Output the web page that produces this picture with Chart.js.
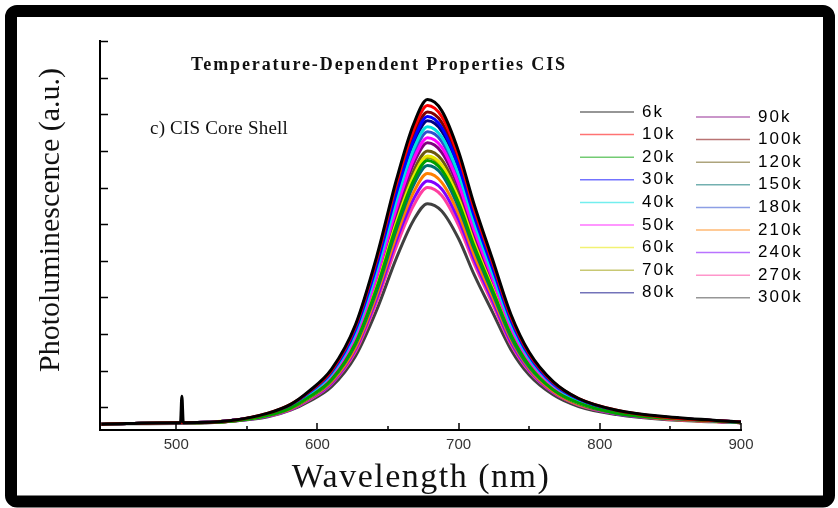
<!DOCTYPE html>
<html>
<head>
<meta charset="utf-8">
<script src="https://cdn.jsdelivr.net/npm/chart.js@4.4.1/dist/chart.umd.min.js"></script>
<style>
  html, body { margin: 0; padding: 0; background: #fff; }
  canvas { display: block; }
</style>
</head>
<body>
<canvas id="plChart" width="838" height="508"></canvas>
<script>
// Wavelength grid (nm) shared by all spectra
const wavelengths = [447, 500, 503, 504, 505, 539, 565, 581, 594, 610, 627, 642, 656, 668, 678, 688, 700, 711, 724, 737, 750, 767, 785, 812, 848, 900];

// PL intensity (a.u.), one array per temperature
const pl6k   = [270, 290, 290, 650, 290, 320, 420, 540, 720, 1020, 1630, 2560, 3610, 4360, 4700, 4550, 3990, 3270, 2520, 1770, 1250, 850, 620, 460, 370, 300];
const pl10k  = [270, 290, 290, 290, 290, 320, 420, 540, 710, 1000, 1610, 2520, 3550, 4280, 4620, 4470, 3920, 3210, 2480, 1740, 1230, 840, 620, 460, 360, 300];
const pl20k  = [270, 290, 290, 290, 290, 310, 390, 490, 640, 880, 1380, 2130, 2980, 3590, 3870, 3740, 3290, 2700, 2100, 1490, 1070, 740, 560, 420, 350, 290];
const pl30k  = [270, 290, 290, 290, 290, 320, 410, 530, 700, 980, 1560, 2440, 3430, 4140, 4470, 4320, 3790, 3110, 2400, 1690, 1200, 820, 610, 450, 360, 300];
const pl40k  = [270, 290, 290, 290, 290, 320, 410, 520, 680, 960, 1520, 2370, 3330, 4020, 4330, 4190, 3680, 3020, 2330, 1640, 1170, 810, 590, 440, 360, 290];
const pl50k  = [270, 290, 290, 290, 290, 320, 400, 510, 670, 930, 1470, 2290, 3220, 3880, 4180, 4050, 3550, 2920, 2260, 1590, 1140, 790, 580, 440, 350, 290];
const pl60k  = [270, 290, 290, 290, 290, 320, 390, 500, 640, 890, 1400, 2160, 3030, 3650, 3930, 3810, 3350, 2750, 2130, 1510, 1080, 750, 560, 430, 350, 290];
const pl70k  = [270, 290, 290, 290, 290, 310, 390, 490, 640, 880, 1390, 2150, 3010, 3630, 3910, 3780, 3330, 2730, 2120, 1500, 1080, 750, 560, 430, 350, 290];
const pl80k  = [270, 290, 290, 290, 290, 320, 410, 520, 690, 970, 1550, 2410, 3390, 4090, 4410, 4270, 3750, 3070, 2370, 1670, 1190, 820, 600, 450, 360, 290];
const pl90k  = [270, 290, 290, 290, 290, 320, 400, 510, 660, 920, 1450, 2260, 3170, 3820, 4110, 3980, 3500, 2870, 2220, 1570, 1120, 780, 580, 440, 350, 290];
const pl100k = [270, 290, 290, 290, 290, 320, 410, 530, 700, 990, 1580, 2470, 3480, 4200, 4530, 4390, 3850, 3160, 2440, 1710, 1220, 830, 610, 450, 360, 300];
const pl120k = [270, 290, 290, 290, 290, 320, 400, 500, 650, 900, 1420, 2200, 3080, 3720, 4000, 3880, 3410, 2800, 2170, 1530, 1100, 760, 570, 430, 350, 290];
const pl150k = [270, 290, 290, 290, 290, 310, 390, 490, 630, 870, 1360, 2090, 2930, 3530, 3800, 3680, 3230, 2660, 2060, 1460, 1050, 740, 550, 420, 350, 290];
const pl180k = [270, 290, 290, 290, 290, 320, 400, 520, 680, 940, 1500, 2330, 3280, 3950, 4260, 4130, 3620, 2970, 2300, 1620, 1160, 800, 590, 440, 360, 290];
const pl210k = [270, 290, 290, 290, 290, 310, 390, 480, 620, 850, 1320, 2040, 2850, 3430, 3690, 3570, 3140, 2580, 2010, 1430, 1030, 720, 540, 420, 340, 290];
const pl240k = [270, 290, 290, 290, 290, 310, 380, 470, 610, 830, 1290, 1990, 2780, 3340, 3590, 3480, 3060, 2520, 1960, 1390, 1010, 710, 540, 410, 340, 290];
const pl270k = [270, 290, 290, 290, 290, 310, 380, 470, 600, 820, 1260, 1940, 2700, 3250, 3500, 3390, 2980, 2460, 1910, 1360, 990, 700, 530, 410, 340, 290];
const pl300k = [270, 280, 280, 280, 280, 310, 370, 460, 580, 780, 1200, 1830, 2540, 3050, 3280, 3180, 2800, 2310, 1800, 1290, 940, 670, 510, 400, 330, 290];

const temperatures = ["6k", "10k", "20k", "30k", "40k", "50k", "60k", "70k", "80k",
                      "90k", "100k", "120k", "150k", "180k", "210k", "240k", "270k", "300k"];
const spectra = [pl6k, pl10k, pl20k, pl30k, pl40k, pl50k, pl60k, pl70k, pl80k,
                 pl90k, pl100k, pl120k, pl150k, pl180k, pl210k, pl240k, pl270k, pl300k];
const lineColors = ["#000000", "#ff0000", "#00a000", "#0000ff", "#00e0e0", "#ff00ff", "#e8e800", "#9a9a00", "#000080",
                    "#800080", "#800000", "#6a5a10", "#006f6f", "#3050d0", "#ff8000", "#8000ff", "#ff3fa0", "#404040"];

// axis ticks
const xTickLabels = [500, 600, 700, 800, 900];
const xMinorTicks = [550, 650, 750, 850];
const yTicks = [500, 1000, 1500, 2000, 2500, 3000, 3500, 4000, 4500, 5000, 5500];

const chartTitle = "Temperature-Dependent Properties CIS";
const panelLabel = "c) CIS Core Shell";
const xTitle = "Wavelength (nm)";
const yTitle = "Photoluminescence (a.u.)";

// extra drawing: inward ticks, titles, two-column legend, black frame
const decorations = {
  id: "decorations",
  afterDraw(chart) {
    const { ctx, chartArea: a, scales: { x, y } } = chart;
    ctx.save();

    // ticks pointing into the plot
    ctx.strokeStyle = "#000";
    ctx.lineWidth = 1.5;
    ctx.beginPath();
    xTickLabels.forEach(v => {
      const p = Math.round(x.getPixelForValue(v));
      ctx.moveTo(p, a.bottom); ctx.lineTo(p, a.bottom - 7);
    });
    xMinorTicks.forEach(v => {
      const p = Math.round(x.getPixelForValue(v));
      ctx.moveTo(p, a.bottom); ctx.lineTo(p, a.bottom - 4);
    });
    yTicks.forEach(v => {
      const p = Math.round(y.getPixelForValue(v)) + 0.5;
      ctx.moveTo(a.left, p); ctx.lineTo(a.left + 8, p);
    });
    ctx.stroke();

    ctx.fillStyle = "#111";
    ctx.textBaseline = "alphabetic";

    // chart title
    ctx.font = "bold 18px 'Liberation Serif'";
    ctx.letterSpacing = "1.9px";
    ctx.textAlign = "center";
    ctx.fillText(chartTitle, 379, 70);

    // panel label
    ctx.font = "19px 'Liberation Serif'";
    ctx.letterSpacing = "0.2px";
    ctx.textAlign = "left";
    ctx.fillText(panelLabel, 150, 134);

    // axis titles
    ctx.font = "34px 'Liberation Serif'";
    ctx.letterSpacing = "1.5px";
    ctx.textAlign = "center";
    ctx.fillText(xTitle, 421, 487);

    ctx.save();
    ctx.translate(59, 220);
    ctx.rotate(-Math.PI / 2);
    ctx.font = "30px 'Liberation Serif'";
    ctx.letterSpacing = "0px";
    ctx.fillText(yTitle, 0, 0);
    ctx.restore();

    // legend in two columns
    ctx.font = "17px 'Liberation Sans'";
    ctx.letterSpacing = "2px";
    ctx.textAlign = "left";
    ctx.textBaseline = "middle";
    temperatures.forEach((t, i) => {
      const col = i < 9 ? 0 : 1;
      const row = i % 9;
      const x0 = col === 0 ? 580 : 696;
      const yy = (col === 0 ? 112 : 117) + row * 22.6;
      ctx.globalAlpha = 0.55;
      ctx.strokeStyle = lineColors[i];
      ctx.lineWidth = 1.5;
      ctx.beginPath();
      ctx.moveTo(x0, yy); ctx.lineTo(x0 + 54, yy);
      ctx.stroke();
      ctx.globalAlpha = 1;
      ctx.fillStyle = "#000";
      ctx.fillText(t, x0 + 62, yy);
    });
    ctx.letterSpacing = "0px";

    // frame around the picture
    ctx.strokeStyle = "#000";
    ctx.lineWidth = 12;
    ctx.beginPath();
    ctx.roundRect(11, 11, 818, 490.5, 6);
    ctx.stroke();

    ctx.restore();
  }
};

const ctx = document.getElementById("plChart").getContext("2d");
new Chart(ctx, {
  type: "line",
  data: {
    datasets: temperatures.map((t, i) => ({
      label: t,
      data: wavelengths.map((w, j) => ({ x: w, y: spectra[i][j] })),
      borderColor: lineColors[i],
      backgroundColor: lineColors[i],
      borderWidth: 3,
      pointRadius: 0,
      cubicInterpolationMode: "monotone",
      fill: false,
    })),
  },
  options: {
    responsive: false,
    animation: false,
    layout: { padding: { left: 100, right: 97, top: 41, bottom: 48 } },
    plugins: {
      legend: { display: false },
      tooltip: { enabled: false },
    },
    scales: {
      x: {
        type: "linear",
        min: 446,
        max: 900,
        afterFit: s => { s.height = 30; },
        afterBuildTicks: s => { s.ticks = xTickLabels.map(v => ({ value: v })); },
        grid: { display: false, drawTicks: false },
        border: { display: true, color: "#000", width: 2 },
        ticks: { padding: 6, color: "#333", maxRotation: 0, font: { family: "Liberation Sans", size: 15 } },
      },
      y: {
        min: 190,
        max: 5500,
        afterFit: s => { s.width = 0; },
        grid: { display: false, drawTicks: false },
        border: { display: true, color: "#000", width: 2 },
        ticks: { display: false },
      },
    },
  },
  plugins: [decorations],
});
</script>
</body>
</html>
